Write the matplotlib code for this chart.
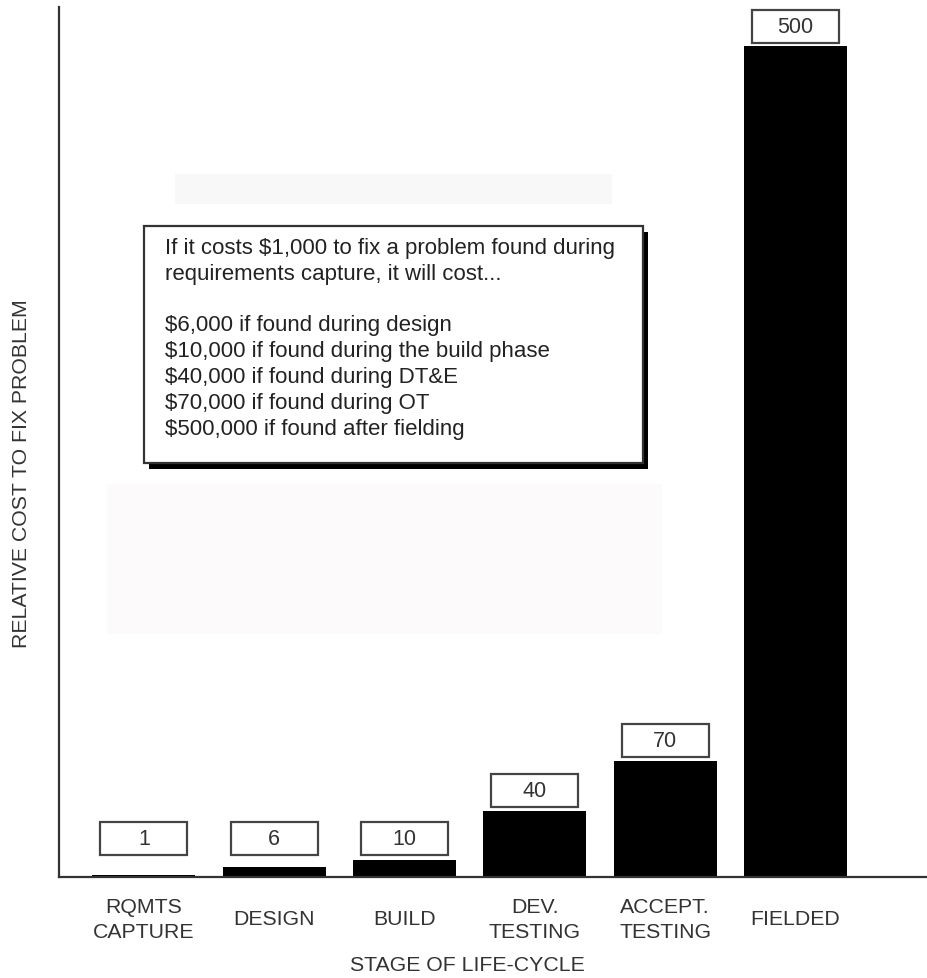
import matplotlib
matplotlib.use('Agg')
import matplotlib.pyplot as plt
from matplotlib.patches import Rectangle

stages = ['RQMTS\nCAPTURE', 'DESIGN', 'BUILD', 'DEV.\nTESTING', 'ACCEPT.\nTESTING', 'FIELDED']
relative_cost = [1, 6, 10, 40, 70, 500]
note_lines = [
    'If it costs $1,000 to fix a problem found during',
    'requirements capture, it will cost...',
    '',
    '$6,000 if found during design',
    '$10,000 if found during the build phase',
    '$40,000 if found during DT&E',
    '$70,000 if found during OT',
    '$500,000 if found after fielding',
]

plt.rcParams['font.family'] = ['Liberation Sans', 'DejaVu Sans']
W, H = 928, 979
fig = plt.figure(figsize=(W / 100, H / 100), dpi=100)
fig.patch.set_facecolor('white')

# faint background panels
fig.patches.append(Rectangle((175 / W, 1 - 205 / H), 437 / W, 30 / H, transform=fig.transFigure,
                             facecolor='#f8f8f8', edgecolor='none', zorder=0))
fig.patches.append(Rectangle((107 / W, 1 - 635 / H), 555 / W, 150 / H, transform=fig.transFigure,
                             facecolor='#fcfafa', edgecolor='none', zorder=0))

ax = fig.add_axes([59 / W, (H - 878) / H, (W - 59) / W, (878 - 8) / H])
ax.set_facecolor('none')
x = list(range(len(stages)))
ax.bar(x, relative_cost, width=0.79, color='black', zorder=2)

ax.set_xlim(-0.652, 6.017)
ax.set_ylim(0, 523.5)

# value boxes above each bar
box_w, box_h = 0.668, 19.9
for i, v in zip(x, relative_cost):
    y0 = max(v + 2, 13.2)
    ax.add_patch(Rectangle((i - box_w / 2, y0), box_w, box_h, facecolor='white',
                           edgecolor='#444444', linewidth=1.6, zorder=3))
    ax.text(i, y0 + box_h / 2, str(v), ha='center', va='center', fontsize=15.5,
            color='#333333', zorder=4)

for s in ['top', 'right']:
    ax.spines[s].set_visible(False)
ax.spines['left'].set_linewidth(1.6)
ax.spines['bottom'].set_linewidth(1.6)
ax.spines['left'].set_color('#333333')
ax.spines['bottom'].set_color('#333333')
ax.set_yticks([])
ax.set_xticks(x)
ax.set_xticklabels(stages, fontsize=15.3, color='#333333', linespacing=1.4)
ax.tick_params(axis='x', length=0, pad=30)
for lbl in ax.get_xticklabels():
    lbl.set_verticalalignment('center')

fig.text(22 / W, 1 - 474 / H, 'RELATIVE COST TO FIX PROBLEM', rotation=90, ha='center',
         va='center', fontsize=15.3, color='#333333')
fig.text(467 / W, 1 - 966 / H, 'STAGE OF LIFE-CYCLE', ha='center', va='center',
         fontsize=15.3, color='#333333')

# note box with drop shadow
fig.patches.append(Rectangle((149 / W, 1 - 470 / H), 499 / W, 237 / H, transform=fig.transFigure,
                             facecolor='black', edgecolor='none', zorder=5))
fig.patches.append(Rectangle((144 / W, 1 - 464 / H), 499 / W, 237 / H, transform=fig.transFigure,
                             facecolor='white', edgecolor='#333333', linewidth=1.6, zorder=6))
fig.text(165 / W, 1 - 238 / H, '\n'.join(note_lines), ha='left', va='top', fontsize=16,
         color='#222222', linespacing=1.3, zorder=7)

fig.savefig('out.png', dpi=100)
